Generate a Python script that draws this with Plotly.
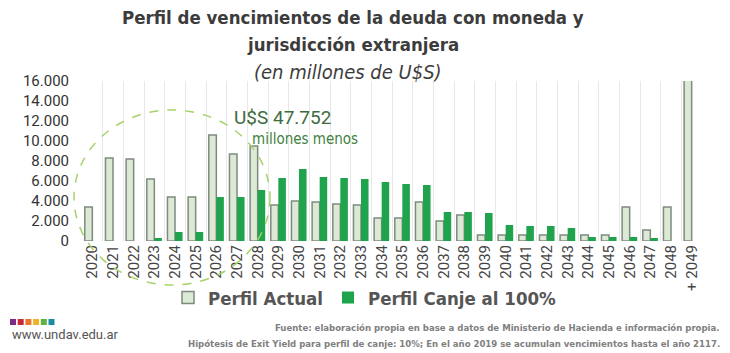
import plotly.graph_objects as go

years = [str(y) for y in range(2020, 2049)] + ["+ 2049"]
perfil_actual = [3400, 8300, 8200, 6200, 4400, 4400, 10600, 8700, 9500, 3600,
                 4000, 3900, 3700, 3600, 2300, 2300, 3900, 2000, 2600, 600,
                 600, 600, 600, 600, 600, 600, 3400, 1100, 3400, 17000]
perfil_canje = [0, 0, 0, 300, 900, 900, 4400, 4400, 5100, 6300,
                7200, 6400, 6300, 6200, 5900, 5700, 5600, 2900, 2900, 2800,
                1600, 1500, 1500, 1300, 400, 400, 400, 300, 0, 0]
y_ticks = list(range(0, 16001, 2000))

W_FIG, H_FIG = 730, 353
L, R, T, B = 82, 28, 81, 112
PW, PH = W_FIG - L - R, H_FIG - T - B


def X(px):
    return (px - L) / PW


def Y(py):
    return (H_FIG - B - py) / PH


NARROW = "Liberation Sans Narrow, DejaVu Sans Condensed, Roboto, sans-serif"

fig = go.Figure()
fig.add_trace(go.Bar(
    name="Perfil Actual", x=years, y=perfil_actual,
    marker=dict(color="#dce9d5", line=dict(color="#7f8a7f", width=1.5)),
))
fig.add_trace(go.Bar(
    name="Perfil Canje al 100%", x=years, y=perfil_canje,
    marker=dict(color="#1fa34c", line=dict(width=0)),
))

fig.update_layout(
    width=W_FIG, height=H_FIG,
    margin=dict(l=L, r=R, t=T, b=B),
    paper_bgcolor="white", plot_bgcolor="white",
    barmode="group", bargap=0.27, bargroupgap=0,
    separators=",.",
    showlegend=True,
    legend=dict(orientation="h", x=X(168), xanchor="left", y=Y(298), yanchor="middle",
                font=dict(family=NARROW, size=18.5, color="#555555", weight="bold"),
                itemwidth=30, bgcolor="rgba(0,0,0,0)"),
    xaxis=dict(type="category", tickangle=-90, tickson="boundaries", ticks="",
               showgrid=True, gridcolor="#e8e8e8", gridwidth=1,
               tickfont=dict(family="Roboto", size=15, color="#444444"),
               showline=False, zeroline=False),
    yaxis=dict(range=[0, 16000], tickvals=y_ticks, tickformat=",d",
               showgrid=False, zeroline=False, showline=False, ticks="",
               ticklabelstandoff=12,
               tickfont=dict(family="Roboto", size=15, color="#333333")),
)

annotations = [
    dict(text="<b>Perfil de vencimientos de la deuda con moneda y</b>", x=X(353), y=Y(18),
         font=dict(family=NARROW, size=18.5, color="#3c3c3c")),
    dict(text="<b>jurisdicción extranjera</b>", x=X(353), y=Y(45),
         font=dict(family=NARROW, size=18.5, color="#3c3c3c")),
    dict(text="<i>(en millones de U$S)</i>", x=X(348), y=Y(72),
         font=dict(family=NARROW, size=20, color="#3c3c3c")),
    dict(text="U$S 47.752", x=X(282), y=Y(117),
         font=dict(family="Roboto", size=19, color="#3e6b40")),
    dict(text="millones menos", x=X(305), y=Y(139),
         font=dict(family=NARROW, size=15, color="#3f7f41")),
    dict(text="www.undav.edu.ar", x=X(10), y=Y(334), xanchor="left",
         font=dict(family="Roboto", size=13, color="#555555")),
    dict(text="<b>Fuente: elaboración propia en base a datos de Ministerio de Hacienda e información propia.</b>",
         x=X(722), y=Y(327), xanchor="right",
         font=dict(family=NARROW, size=9.5, color="#808080")),
    dict(text="<b>Hipótesis de Exit Yield para perfil de canje: 10%; En el año 2019 se acumulan vencimientos hasta el año 2117.</b>",
         x=X(722), y=Y(343), xanchor="right",
         font=dict(family=NARROW, size=9.5, color="#808080")),
]
for a in annotations:
    a.setdefault("xanchor", "center")
    a.update(xref="paper", yref="paper", yanchor="middle", showarrow=False)
fig.update_layout(annotations=annotations)

shapes = [dict(type="circle", xref="paper", yref="paper",
               x0=X(74), x1=X(270), y0=Y(285), y1=Y(110),
               line=dict(color="#a5d36b", width=1.5, dash="dash"), layer="above")]
logo_colors = ["#7d2b8b", "#c8283a", "#e8772e", "#f0b323", "#5fb346", "#1d8ba0"]
for i, c in enumerate(logo_colors):
    x0 = 10 + i * 7.7
    shapes.append(dict(type="rect", xref="paper", yref="paper",
                       x0=X(x0), x1=X(x0 + 6), y0=Y(325), y1=Y(319),
                       fillcolor=c, line=dict(width=0)))
fig.update_layout(shapes=shapes)

fig.write_html("out.html")
